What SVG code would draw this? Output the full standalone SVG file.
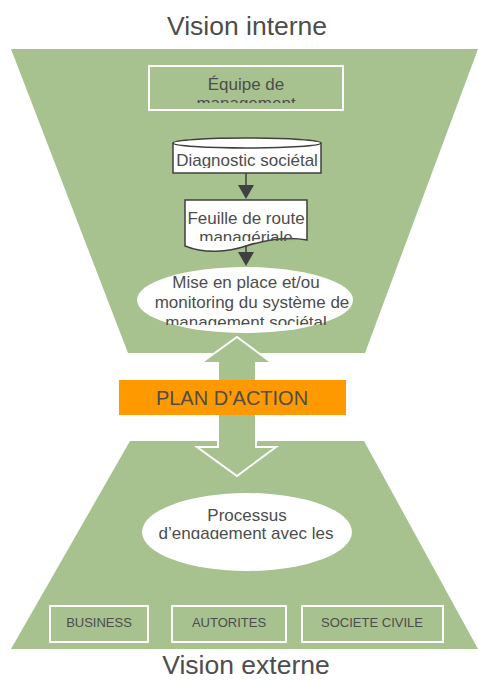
<svg xmlns="http://www.w3.org/2000/svg" width="478" height="681" viewBox="0 0 478 681">
<style>
.t{font-family:"Liberation Sans",Arial,sans-serif;fill:#4D4D4D;text-anchor:middle}
.g{fill:#A7C18F}
.wb{fill:none;stroke:#fff;stroke-width:2}
.wn{fill:#fff;stroke:#404040;stroke-width:1.5}
.el{fill:#fff}
.ah{fill:#404040}
.ln{stroke:#404040;stroke-width:1.5;fill:none}
</style>
<defs>
<clipPath id="cEq"><rect x="150" y="67" width="192" height="36"/></clipPath>
<clipPath id="cDi"><rect x="173" y="140" width="148" height="28"/></clipPath>
<clipPath id="cFe"><rect x="185" y="201" width="122" height="40"/></clipPath>
<clipPath id="cMi"><rect x="136" y="268" width="217" height="57"/></clipPath>
<clipPath id="cPr"><rect x="142" y="494" width="211" height="45"/></clipPath>
</defs>
<rect width="478" height="681" fill="#fff"/>
<text class="t" x="247" y="35" font-size="26.5">Vision interne</text>
<g id="top-trapezoid"><polygon class="g" points="11,49 478,49 365,353 128,353"/></g>
<g id="bottom-trapezoid"><polygon class="g" points="130,441 364,441 478,649 11,649"/></g>
<g id="double-arrow"><polygon class="g" stroke="#fff" stroke-width="2" stroke-linejoin="miter" points="237,337 272,363 256,363 256,447 276,447 237,476 197,447 218,447 218,363 201,363"/></g>
<g id="plan-action"><rect x="119" y="380" width="227" height="35" fill="#FF9900"/><text class="t" x="232" y="405" font-size="20">PLAN D’ACTION</text></g>
<g id="equipe"><rect class="wb" x="149" y="66" width="194" height="44"/><g clip-path="url(#cEq)"><text class="t" x="246" y="90" font-size="17">Équipe de</text><text class="t" x="246" y="109" font-size="17">management</text></g></g>
<g id="diagnostic"><path class="wn" d="M173,143 A74,5 0 0 1 321,143 V173 H173 Z"/><path class="ln" d="M173,143 A74,5 0 0 0 321,143"/><g clip-path="url(#cDi)"><text class="t" x="247" y="166" font-size="17" fill="#333">Diagnostic sociétal</text></g></g>
<g id="feuille"><path class="wn" d="M185,200 H307 V240 C285,236 265,240 246,246 C228,252 205,254 185,246 Z"/><g clip-path="url(#cFe)"><text class="t" x="246" y="224" font-size="17">Feuille de route</text><text class="t" x="246" y="243" font-size="17">managériale</text></g></g>
<g id="mise-en-place"><ellipse class="el" cx="245" cy="300" rx="108" ry="33"/><g clip-path="url(#cMi)"><text class="t" x="246" y="288" font-size="17">Mise en place et/ou</text><text class="t" x="252" y="308" font-size="17">monitoring du système de</text><text class="t" x="246" y="328" font-size="17">management sociétal</text></g></g>
<g id="processus"><ellipse class="el" cx="247" cy="532" rx="105" ry="39"/><g clip-path="url(#cPr)"><text class="t" x="247" y="521" font-size="17">Processus</text><text class="t" x="246" y="539" font-size="17">d’engagement avec les</text></g></g>
<g id="business"><rect class="wb" x="50" y="606" width="98" height="36"/><text class="t" x="99" y="627" font-size="13">BUSINESS</text></g>
<g id="autorites"><rect class="wb" x="172" y="606" width="114" height="36"/><text class="t" x="229" y="627" font-size="13">AUTORITES</text></g>
<g id="societe-civile"><rect class="wb" x="302" y="606" width="141" height="36"/><text class="t" x="372" y="627" font-size="13">SOCIETE CIVILE</text></g>
<text class="t" x="246" y="674" font-size="26.5">Vision externe</text>
<g id="connectors">
<line class="ln" x1="246" y1="173" x2="246" y2="186"/>
<polygon class="ah" points="238,185 254,185 246,199"/>
<line class="ln" x1="246" y1="245" x2="246" y2="253"/>
<polygon class="ah" points="238,252 254,252 246,266"/>
</g>
</svg>
